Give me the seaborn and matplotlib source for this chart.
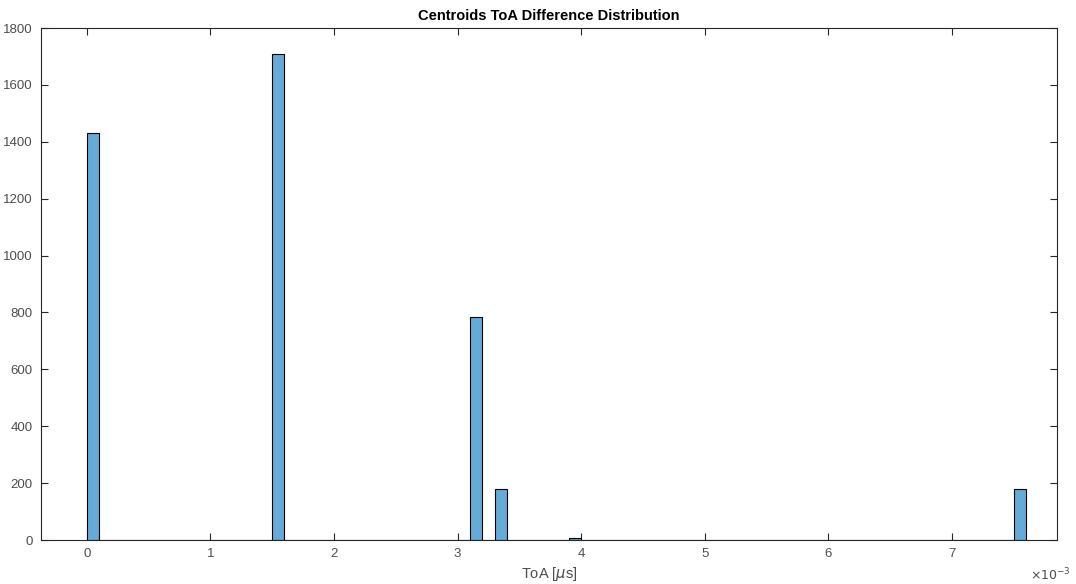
import numpy as np
import pandas as pd
import matplotlib
matplotlib.use("Agg")
import matplotlib.pyplot as plt
import seaborn as sns
from matplotlib.ticker import FuncFormatter, MultipleLocator

# Data: bin left edges (µs) and counts
bin_left = [0.0, 0.0015, 0.0031, 0.0033, 0.0039, 0.0075]
counts = [1430, 1710, 785, 180, 7, 178]
bin_width = 0.0001
y_ticks = [0, 200, 400, 600, 800, 1000, 1200, 1400, 1600, 1800]

df = pd.DataFrame({"toa": [b + bin_width / 2 for b in bin_left], "count": counts})

sns.set_style("white")
plt.rcParams["font.family"] = ["Liberation Sans", "DejaVu Sans"]

fig = plt.figure(figsize=(10.76, 5.84), dpi=100)
ax = fig.add_axes([0.0381, 0.0753, 0.9442, 0.8767])

face = (0.4 + 0.6 * 0.0, 0.4 + 0.6 * 0.447, 0.4 + 0.6 * 0.741)
sns.histplot(data=df, x="toa", weights="count", binwidth=bin_width,
             binrange=(0.0, 0.0076), color=face, alpha=1.0,
             edgecolor="black", linewidth=0.8, ax=ax)

ax.set_xlim(-0.00037, 0.00785)
ax.set_ylim(0, 1800)
ax.set_yticks(y_ticks)
ax.xaxis.set_major_locator(MultipleLocator(0.001))
ax.xaxis.set_major_formatter(FuncFormatter(lambda v, p: f"{v*1e3:.0f}"))

dark = "#262626"
tc = "#4d4d4d"
for s in ax.spines.values():
    s.set_visible(True)
    s.set_color(dark)
    s.set_linewidth(0.8)
ax.tick_params(axis="both", direction="in", length=5, width=0.8, color=dark,
               labelcolor=tc, labelsize=9.5, top=True, right=True,
               bottom=True, left=True)
ax.tick_params(axis="x", pad=6)
ax.tick_params(axis="y", pad=6)

ax.set_xlabel("ToA [$\\mu$s]", fontsize=10.5, color=tc, labelpad=3)
ax.set_ylabel("")
ax.set_title("Centroids ToA Difference Distribution", fontsize=10.5,
             fontweight="bold", color="black", pad=6)
ax.text(1.014, -0.068, "$\\times10^{-3}$", transform=ax.transAxes,
        ha="right", va="center", fontsize=9, color=tc)

fig.savefig("out.png", dpi=100, facecolor="white")
